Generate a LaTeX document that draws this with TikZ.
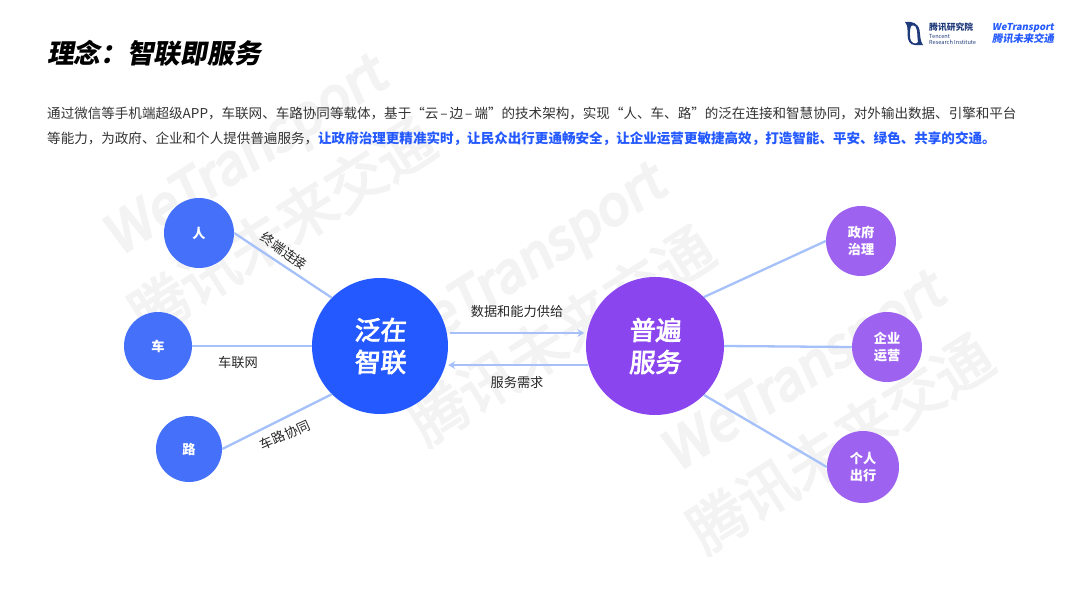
\documentclass[tikz,border=0pt]{standalone}
\usepackage{fontspec}
\usetikzlibrary{arrows.meta}
\setmainfont{Noto Sans CJK SC}
\newfontfamily\slantfont[FakeSlant=0.18]{Noto Sans CJK SC}
\newfontfamily\hubfont[FakeSlant=0.08,FakeBold=3]{Noto Sans CJK SC}
\newfontfamily\markfont[FakeSlant=0.14,FakeBold=4.5]{Noto Sans CJK SC}
\newfontfamily\markcjk[FakeBold=2.6]{Noto Sans CJK SC}
\definecolor{bigblue}{HTML}{2459FF}
\definecolor{bigpurple}{HTML}{8B45EF}
\definecolor{smallblue}{HTML}{4570FA}
\definecolor{smallpurple}{HTML}{9E62F0}
\definecolor{linkblue}{HTML}{A6C1FA}
\definecolor{bodygray}{HTML}{333333}
\definecolor{navy}{HTML}{1F3A7A}
\definecolor{markgray}{HTML}{F3F3F3}
\tikzset{
  x=1pt,y=-1pt,
  hub/.style={circle,inner sep=0pt,text=white,align=center,font=\hubfont\fontsize{26}{32}\selectfont,minimum size=#1},
  leaf/.style={circle,inner sep=0pt,text=white,align=center,font=\bfseries\fontsize{13.2}{17}\selectfont,minimum size=#1},
  link/.style={draw=linkblue,line width=2.3pt},
  flow/.style={draw=linkblue,line width=2pt,-{Stealth[length=7pt,width=8pt]}},
  edgelabel/.style={text=black!85,font=\fontsize{13.2}{16}\selectfont,inner sep=0pt},
  para/.style={anchor=west,inner sep=0pt,text=bodygray,font=\fontsize{13.55}{16}\selectfont},
  mark1/.style={text=markgray,rotate=32.5,inner sep=0pt,font=\markfont\fontsize{54}{60}\selectfont},
  mark2/.style={text=markgray,rotate=32.5,inner sep=0pt,font=\markcjk\fontsize{58}{60}\selectfont},
}
\begin{document}
\begin{tikzpicture}
\useasboundingbox (0,0) rectangle (1080,608);
\fill[white] (0,0) rectangle (1080,608);

% watermarks
\node[mark1] (w1) at (247,159) {WeTransport};
\node[mark2] (w1b) at (282,227) {腾讯未来交通};
\node[mark1] (w2) at (526,267) {WeTransport};
\node[mark2] (w2b) at (561,335) {腾讯未来交通};
\node[mark1] (w3) at (805,375) {WeTransport};
\node[mark2] (w3b) at (840,443) {腾讯未来交通};

% title and text
\node[anchor=west,inner sep=0pt,text=black,font=\slantfont\bfseries\fontsize{26.7}{30}\selectfont] (title) at (47,53) {理念：智联即服务};
\node[para] (line1) at (47,113) {通过微信等手机端超级APP，车联网、车路协同等载体，基于“云\kern2pt–\kern2pt边\kern2pt–\kern2pt端”的技术架构，实现“人、车、路”的泛在连接和智慧协同，对外输出数据、引擎和平台};
\node[para] (line2) at (47,139) {等能力，为政府、企业和个人提供普遍服务，\textcolor{bigblue}{\bfseries 让政府治理更精准实时，让民众出行更通畅安全，让企业运营更敏捷高效，打造智能、平安、绿色、共享的交通。}};

% connectors
\node[hub=136pt,fill=bigblue] (fan) at (380,346) {泛在\\智联};
\node[hub=138pt,fill=bigpurple] (pu) at (655,346) {普遍\\服务};
\node[leaf=70pt,fill=smallblue] (ren) at (199,233) {人};
\node[leaf=68pt,fill=smallblue] (che) at (158,346) {车};
\node[leaf=66pt,fill=smallblue] (lu) at (189,449) {路};
\node[leaf=70pt,fill=smallpurple] (gov) at (861,241) {政府\\治理};
\node[leaf=70pt,fill=smallpurple] (ent) at (887,347) {企业\\运营};
\node[leaf=72pt,fill=smallpurple] (per) at (863,467) {个人\\出行};

\draw[link] (ren.east) -- (fan.135);
\draw[link] (che.east) -- (fan.west);
\draw[link] (lu.east) -- (fan.-135);
\draw[link] (pu.45) -- (gov.west);
\draw[link] (pu.east) -- (ent.west);
\draw[link] (pu.-45) -- (per.west);
\draw[flow,shorten <=3pt,shorten >=3pt] (fan.11.9) -- (fan.11.9 -| pu.168.4);
\draw[flow,shorten <=0pt,shorten >=3pt] (pu.196.9) -- (pu.196.9 -| fan.-17.1);

% labels
\node[edgelabel,rotate=-35] (l1) at (284,251) {终端连接};
\node[edgelabel] (l2) at (238,362) {车联网};
\node[edgelabel,rotate=24] (l3) at (285,435) {车路协同};
\node[edgelabel] (l4) at (517,311) {数据和能力供给};
\node[edgelabel] (l5) at (517,382) {服务需求};

% logos
\fill[navy,even odd rule] (905,22) .. controls (912,21) and (918,23) .. (919.5,30)
  .. controls (920.5,36) and (920,41) .. (923,45) -- (915,45)
  .. controls (910,45) and (907.5,41) .. (907.5,34)
  .. controls (907.5,29) and (908,26) .. (905,22) -- cycle
  (911,26) .. controls (909.5,30) and (909.5,38) .. (911,41)
  .. controls (913,44) and (917,44) .. (918,42)
  .. controls (917,38) and (918,30) .. (915.5,26.5)
  .. controls (914,25) and (912,25) .. (911,26) -- cycle;
\node[anchor=west,inner sep=0pt,text=navy,font=\bfseries\fontsize{8.8}{10}\selectfont] (brand) at (929,27) {腾讯研究院};
\node[anchor=west,inner sep=0pt,text=navy,font=\fontsize{5.6}{6}\selectfont] (brandb) at (929,36) {Tencent};
\node[anchor=west,inner sep=0pt,text=navy,font=\fontsize{5.6}{6}\selectfont] (brandc) at (929,42.5) {Research Institute};
\node[anchor=west,inner sep=0pt,text=bigblue,font=\slantfont\bfseries\fontsize{9.5}{12}\selectfont] (we) at (992,27.5) {WeTransport};
\node[anchor=west,inner sep=0pt,text=bigblue,font=\slantfont\bfseries\fontsize{10.3}{12}\selectfont] (wec) at (992,39) {腾讯未来交通};
\end{tikzpicture}
\end{document}
